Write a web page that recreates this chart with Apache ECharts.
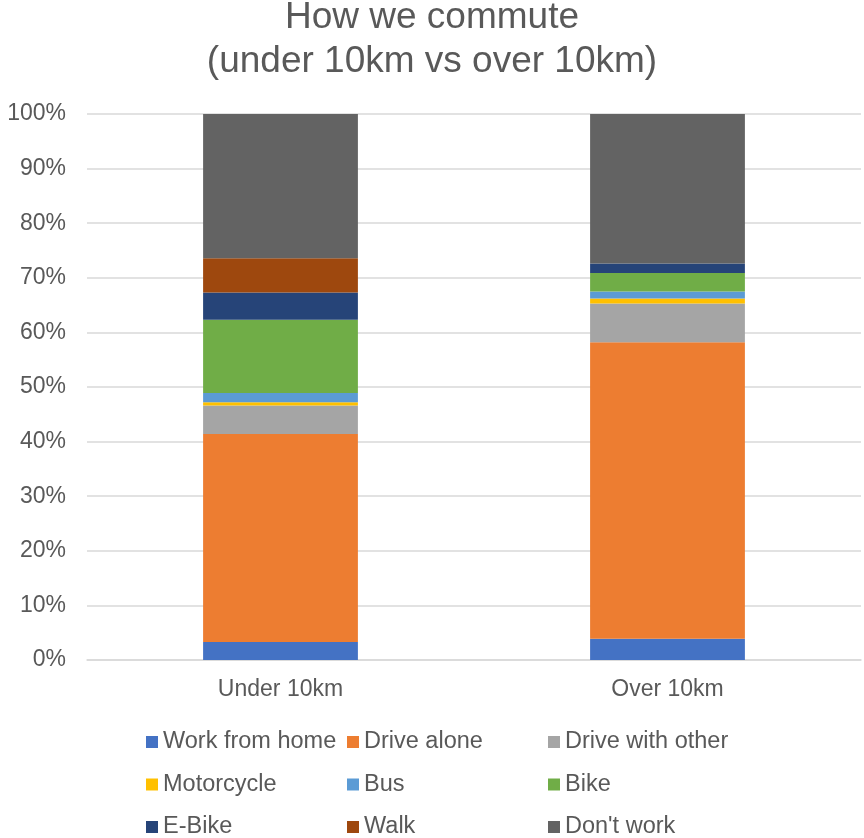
<!DOCTYPE html>
<html>
<head>
<meta charset="utf-8">
<script src="https://cdn.jsdelivr.net/npm/echarts@6/dist/echarts.min.js"></script>
<style>html,body{margin:0;padding:0;background:#fff;}#c{width:864px;height:838px;}</style>
</head>
<body>
<div id="c"></div>
<script>
const categories = ['Under 10km', 'Over 10km'];
const seriesNames = ['Work from home', 'Drive alone', 'Drive with other', 'Motorcycle', 'Bus', 'Bike', 'E-Bike', 'Walk', "Don't work"];
const workFromHome = [3.3, 3.9];
const driveAlone = [38.1, 54.3];
const driveWithOther = [5.2, 7.1];
const motorcycle = [0.6, 0.9];
const bus = [1.7, 1.3];
const bike = [13.4, 3.4];
const eBike = [5.0, 1.7];
const walk = [6.3, 0.0];
const dontWork = [26.4, 27.4];
const colors = ['#4472C4', '#ED7D31', '#A5A5A5', '#FFC000', '#5B9BD5', '#70AD47', '#264478', '#9E480E', '#636363'];
const values = [workFromHome, driveAlone, driveWithOther, motorcycle, bus, bike, eBike, walk, dontWork];

const FONT = '"Liberation Sans", Arial, sans-serif';
const TXT = '#595959';

const chart = echarts.init(document.getElementById('c'), null, {renderer: 'canvas'});
const legendCol = (names, left) => ({
  orient: 'vertical', left: left, top: 730, height: 200, padding: 0,
  itemWidth: 12, itemHeight: 12, itemGap: 18.5,
  icon: 'rect', data: names,
  textStyle: {fontFamily: FONT, fontSize: 23.5, color: TXT, lineHeight: 22}
});
chart.setOption({
  animation: false,
  color: colors,
  title: {
    text: 'How we commute\n(under 10km vs over 10km)',
    left: 'center', top: -4, padding: 0,
    textStyle: {fontFamily: FONT, fontSize: 37, fontWeight: 'normal', color: TXT, lineHeight: 44}
  },
  legend: [
    legendCol([seriesNames[0], seriesNames[3], seriesNames[6]], 146),
    legendCol([seriesNames[1], seriesNames[4], seriesNames[7]], 347),
    legendCol([seriesNames[2], seriesNames[5], seriesNames[8]], 548)
  ],
  grid: {left: 87, right: 3, top: 114, bottom: 178, containLabel: false},
  xAxis: {
    type: 'category', data: categories,
    axisLine: {lineStyle: {color: '#d9d9d9', width: 1.5}},
    axisTick: {show: false},
    axisLabel: {fontFamily: FONT, fontSize: 23, color: TXT, margin: 18}
  },
  yAxis: {
    type: 'value', min: 0, max: 100, interval: 10,
    axisLine: {show: false}, axisTick: {show: false},
    axisLabel: {fontFamily: FONT, fontSize: 23, color: TXT, margin: 21, formatter: '{value}%'},
    splitLine: {lineStyle: {color: '#d9d9d9', width: 1.5}}
  },
  series: seriesNames.map((n, i) => ({
    name: n, type: 'bar', stack: 'total', barWidth: '40%',
    data: values[i],
    itemStyle: {color: colors[i]}
  }))
});
</script>
</body>
</html>
